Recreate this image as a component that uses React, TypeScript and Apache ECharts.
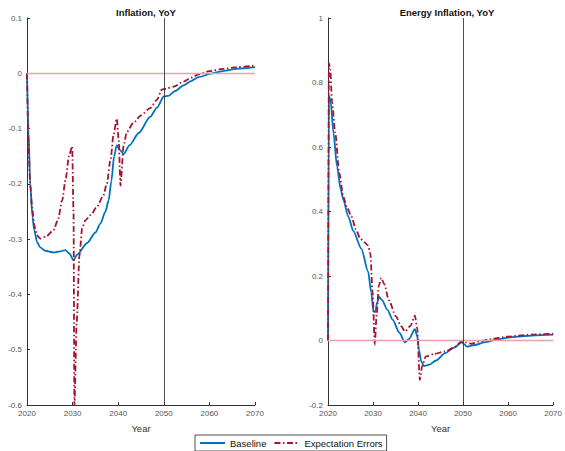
import React, { useEffect, useRef } from "react";
import * as echarts from "echarts";

// Left panel: Inflation, YoY
const leftBaseline: [number, number][] = [
  [2020.0, 0], [2020.3, -0.1], [2020.7, -0.2], [2021.2, -0.26], [2021.6, -0.284],
  [2022.2, -0.305], [2022.9, -0.315], [2024.0, -0.321], [2025.8, -0.324], [2027.3, -0.322],
  [2028.4, -0.32], [2029.3, -0.326], [2030.2, -0.338], [2031.0, -0.328], [2033.2, -0.307],
  [2035.0, -0.288], [2036.1, -0.272], [2037.2, -0.25], [2037.9, -0.23], [2038.5, -0.195],
  [2039.1, -0.15], [2039.7, -0.13], [2040.3, -0.138], [2041.2, -0.146], [2042.5, -0.13],
  [2044.5, -0.108], [2047.0, -0.079], [2048.5, -0.062], [2050.0, -0.042], [2051.0, -0.041],
  [2052.5, -0.032], [2054.3, -0.022], [2056.0, -0.014], [2057.6, -0.007], [2060.6, 0.0],
  [2063.0, 0.004], [2066.0, 0.008], [2070.0, 0.011],
];
const leftExpErr: [number, number][] = [
  [2020.0, 0], [2020.3, -0.12], [2020.7, -0.2], [2021.1, -0.242], [2021.6, -0.275],
  [2022.2, -0.293], [2022.9, -0.299], [2024.2, -0.295], [2025.8, -0.284], [2026.8, -0.265],
  [2027.7, -0.23], [2028.5, -0.19], [2029.2, -0.15], [2029.9, -0.132], [2030.2, -0.25],
  [2030.4, -0.6], [2030.9, -0.45], [2031.5, -0.33], [2032.1, -0.28], [2032.8, -0.266],
  [2034.0, -0.256], [2035.3, -0.242], [2036.7, -0.222], [2037.5, -0.2], [2038.3, -0.157],
  [2039.0, -0.11], [2039.7, -0.082], [2040.1, -0.12], [2040.5, -0.203], [2041.2, -0.13],
  [2041.9, -0.106], [2043.3, -0.09], [2045.0, -0.076], [2047.0, -0.063], [2048.5, -0.048],
  [2049.6, -0.029], [2050.5, -0.028], [2052.2, -0.024], [2054.3, -0.015], [2056.0, -0.008],
  [2057.6, -0.002], [2060.0, 0.004], [2063.0, 0.008], [2066.0, 0.011], [2070.0, 0.014],
];

// Right panel: Energy Inflation, YoY
const rightBaseline: [number, number][] = [
  [2020.0, 0], [2020.2, 0.76], [2020.6, 0.74], [2021.2, 0.645], [2022.0, 0.54],
  [2022.8, 0.47], [2023.4, 0.437], [2024.5, 0.385], [2025.6, 0.34], [2027.4, 0.285],
  [2028.9, 0.214], [2029.6, 0.15], [2030.1, 0.09], [2030.5, 0.088], [2030.9, 0.118],
  [2031.4, 0.135], [2032.0, 0.125], [2033.2, 0.095], [2034.4, 0.064], [2035.8, 0.025],
  [2037.1, -0.006], [2038.0, 0.005], [2039.3, 0.035], [2039.8, 0.015], [2040.2, -0.029],
  [2040.7, -0.065], [2041.3, -0.079], [2042.5, -0.075], [2044.0, -0.062], [2046.0, -0.039],
  [2048.0, -0.022], [2049.7, -0.006], [2050.3, -0.012], [2050.8, -0.019], [2052.5, -0.014],
  [2055.0, -0.005], [2057.5, 0.003], [2059.9, 0.009], [2063.0, 0.013], [2066.0, 0.016],
  [2070.0, 0.018],
];
const rightExpErr: [number, number][] = [
  [2020.0, 0], [2020.2, 0.86], [2020.5, 0.84], [2020.9, 0.74], [2021.6, 0.645],
  [2022.5, 0.52], [2023.4, 0.445], [2024.3, 0.41], [2025.2, 0.385], [2026.2, 0.345],
  [2027.1, 0.318], [2028.0, 0.305], [2028.9, 0.295], [2029.4, 0.27], [2029.9, 0.15],
  [2030.4, -0.013], [2030.8, 0.08], [2031.3, 0.17], [2031.8, 0.194], [2032.5, 0.175],
  [2033.5, 0.125], [2035.1, 0.075], [2036.2, 0.045], [2037.1, 0.028], [2038.3, 0.045],
  [2039.3, 0.077], [2039.8, 0.04], [2040.4, -0.122], [2040.9, -0.08], [2041.7, -0.05],
  [2043.5, -0.042], [2046.0, -0.034], [2048.0, -0.022], [2049.7, -0.003], [2050.5, -0.006],
  [2051.9, -0.01], [2054.0, -0.002], [2056.0, 0.004], [2059.9, 0.012], [2063.0, 0.016],
  [2066.0, 0.019], [2070.0, 0.021],
];

const titles = ["Inflation, YoY", "Energy Inflation, YoY"];
const seriesNames = ["Baseline", "Expectation Errors"];
const xTicks = { min: 2020, max: 2070, interval: 10 };
const leftY = { min: -0.6, max: 0.1, interval: 0.1 };
const rightY = { min: -0.2, max: 1, interval: 0.2 };
const shockYear = 2050;

const BLUE = "#0072BD";
const RED = "#A2142F";
const ZERO = "#E8A3AA";
const FONT = "Liberation Sans, Arial, sans-serif";

export default function App() {
  const ref = useRef<HTMLDivElement>(null);
  useEffect(() => {
    if (!ref.current) return;
    const chart = echarts.init(ref.current, undefined, { renderer: "svg" });
    const grids = [
      { left: 27, width: 228, top: 18, bottom: 46 },
      { left: 328, width: 228, top: 18, bottom: 46 },
    ];
    const fmt = (v: number) => String(Math.round(v * 10) / 10);
    const xAxis = [0, 1].map((i) => ({
      type: "value",
      gridIndex: i,
      min: xTicks.min,
      max: xTicks.max,
      interval: xTicks.interval,
      name: "Year",
      nameLocation: "middle",
      nameGap: 18,
      nameTextStyle: { fontSize: 9.5, color: "#333", fontFamily: FONT },
      axisLine: { onZero: false, lineStyle: { color: "#333", width: 1 } },
      axisTick: { inside: true, length: 3, lineStyle: { color: "#333" } },
      axisLabel: { fontSize: 8, color: "#555", margin: 4, fontFamily: FONT, formatter: (v: number) => String(v) },
      splitLine: { show: false },
    }));
    const yAxis = [leftY, rightY].map((y, i) => ({
      type: "value",
      gridIndex: i,
      min: y.min,
      max: y.max,
      interval: y.interval,
      axisLine: { show: true, onZero: false, lineStyle: { color: "#333", width: 1 } },
      axisTick: { show: true, inside: true, length: 3, lineStyle: { color: "#333" } },
      axisLabel: { fontSize: 8, color: "#555", margin: 5, fontFamily: FONT, formatter: fmt },
      splitLine: { show: false },
    }));
    const mkLine = {
      silent: true,
      symbol: "none",
      label: { show: false },
      animation: false,
      data: [
        { yAxis: 0, lineStyle: { color: ZERO, width: 1.3, type: "solid" } },
        { xAxis: shockYear, lineStyle: { color: "#222", width: 0.8, type: "solid" } },
      ],
    };
    const mk = (name: string, data: [number, number][], idx: number, color: string, dashed: boolean, markLine?: any) => ({
      name,
      type: "line",
      xAxisIndex: idx,
      yAxisIndex: idx,
      data,
      symbol: "none",
      smooth: 0.25,
      smoothMonotone: "x",
      lineStyle: dashed
        ? { color, width: 1.8, type: [6, 2.5, 1.5, 2.5] }
        : { color, width: 1.8 },
      itemStyle: { color },
      markLine,
      z: dashed ? 3 : 2,
    });
    chart.setOption({
      animation: false,
      title: [
        { text: titles[0], left: 141, top: 2, textAlign: "center", textStyle: { fontSize: 9.5, fontWeight: "bold", color: "#111", fontFamily: FONT } },
        { text: titles[1], left: 442, top: 2, textAlign: "center", textStyle: { fontSize: 9.5, fontWeight: "bold", color: "#111", fontFamily: FONT } },
      ],
      legend: {
        left: 195,
        top: 435,
        data: seriesNames,
        orient: "horizontal",
        borderColor: "#222",
        borderWidth: 0.8,
        padding: [3, 4, 3, 4],
        itemWidth: 25,
        itemHeight: 10,
        itemGap: 7,
        itemStyle: { opacity: 0 },
        textStyle: { fontSize: 9.5, color: "#111", fontFamily: FONT },
      },
      grid: grids,
      xAxis,
      yAxis,
      series: [
        mk(seriesNames[0], leftBaseline, 0, BLUE, false, mkLine),
        mk(seriesNames[1], leftExpErr, 0, RED, true),
        mk(seriesNames[0], rightBaseline, 1, BLUE, false, mkLine),
        mk(seriesNames[1], rightExpErr, 1, RED, true),
      ],
    });
    return () => chart.dispose();
  }, []);
  return (
    <div
      ref={ref}
      style={{ position: "fixed", left: 0, top: 0, width: 565, height: 451, background: "#fff" }}
    />
  );
}
